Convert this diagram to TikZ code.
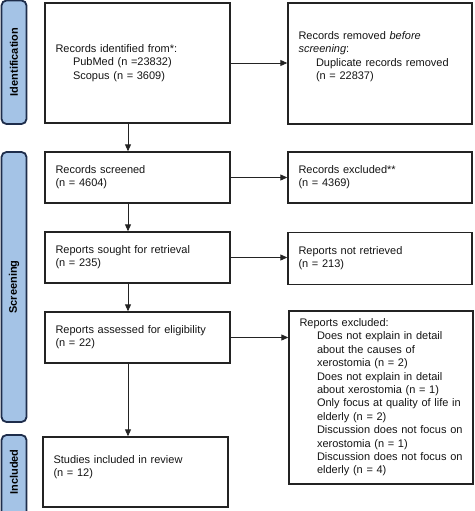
\documentclass[tikz,border=0pt]{standalone}
\usepackage{fontspec}
\setmainfont{Liberation Sans}
\usetikzlibrary{arrows.meta}
\definecolor{barfill}{RGB}{164,195,230}
\definecolor{barline}{RGB}{30,45,75}
\definecolor{boxline}{RGB}{35,35,35}
\definecolor{txt}{RGB}{20,20,20}
\newcommand{\ind}{\hspace*{17.5pt}}
\begin{document}
\begin{tikzpicture}[x=1pt,y=-1pt,
  flowbox/.style={rectangle, draw=boxline, line width=1.4pt, inner xsep=10.5pt, inner ysep=0pt,
    align=left, text=txt, font=\fontsize{11}{13.4}\selectfont},
  leftbox/.style={flowbox, minimum width=185pt, text width=164pt},
  rightbox/.style={flowbox, minimum width=184pt, text width=163pt},
  phasebar/.style={draw=barline, fill=barfill, line width=1.8pt, rounded corners=5pt},
  phaselabel/.style={rotate=90, font=\fontsize{11}{13}\selectfont\bfseries, text=black, inner sep=0pt},
  arr/.style={draw=boxline, line width=0.9pt, -{Triangle[length=7pt,width=6pt]}}]
\useasboundingbox (0,0) rectangle (474,511);

% phase bars
\draw[phasebar] (1.5,0.5) rectangle (26.5,124);
\node[phaselabel] (lid) at (14,62) {Identification};
\draw[phasebar] (1.5,152) rectangle (26.5,422);
\node[phaselabel] (lsc) at (14,287) {Screening};
\draw[phasebar] (1.5,435) rectangle (26.5,516);
\node[phaselabel] (lin) at (14,472) {Included};

% left column
\node[leftbox, minimum height=120pt] (ident) at (137.5,63) {\begin{tabular}{@{}l@{}}Records identified from*:\\ \ind PubMed (n =23832)\\ \ind Scopus (n = 3609)\end{tabular}};
\node[leftbox, minimum height=51pt] (screened) at (137.5,177.5) {\begin{tabular}{@{}l@{}}Records screened\\ (n = 4604)\end{tabular}};
\node[leftbox, minimum height=51pt] (sought) at (137.5,257.5) {\begin{tabular}{@{}l@{}}Reports sought for retrieval\\ (n = 235)\end{tabular}};
\node[leftbox, minimum height=51pt] (assessed) at (137.5,337.5) {\begin{tabular}{@{}l@{}}Reports assessed for eligibility\\ (n = 22)\end{tabular}};
\node[leftbox, minimum height=70pt] (studies) at (135.5,472) {\begin{tabular}{@{}l@{}}Studies included in review\\ (n = 12)\\[-4pt] \mbox{}\end{tabular}};

% right column
\node[rightbox, minimum height=121pt] (removed) at (380,63.5) {\begin{tabular}{@{}l@{}}Records removed \textit{before}\\ \textit{screening}:\\ \ind Duplicate records removed\\ \ind (n = 22837)\\ \mbox{}\end{tabular}};
\node[rightbox, minimum height=51pt] (excluded) at (380,177.5) {\begin{tabular}{@{}l@{}}Records excluded**\\ (n = 4369)\end{tabular}};
\node[rightbox, minimum height=52pt] (notretr) at (380,258.5) {\begin{tabular}{@{}l@{}}Reports not retrieved\\ (n = 213)\end{tabular}};
\node[rightbox, minimum height=173pt] (repexcl) at (381,397.5) {\begin{tabular}{@{}l@{}}Reports excluded:\\
 \ind Does not explain in detail\\
 \ind about the causes of\\
 \ind xerostomia (n = 2)\\
 \ind Does not explain in detail\\
 \ind about xerostomia (n = 1)\\
 \ind Only focus at quality of life in\\
 \ind elderly (n = 2)\\
 \ind Discussion does not focus on\\
 \ind xerostomia (n = 1)\\
 \ind Discussion does not focus on\\
 \ind elderly (n = 4)\end{tabular}};

% connectors
\coordinate (ax) at (128,0);
\draw[arr] (ident.south -| ax) -- (screened.north -| ax);
\draw[arr] (screened.south -| ax) -- (sought.north -| ax);
\draw[arr] (sought.south -| ax) -- (assessed.north -| ax);
\draw[arr] (assessed.south -| ax) -- (studies.north -| ax);
\draw[arr] (ident.east) -- (ident.east -| removed.west);
\draw[arr] (screened.east) -- (excluded.west);
\draw[arr] (sought.east) -- (sought.east -| notretr.west);
\draw[arr] (assessed.east) -- (assessed.east -| repexcl.west);
\end{tikzpicture}
\end{document}
